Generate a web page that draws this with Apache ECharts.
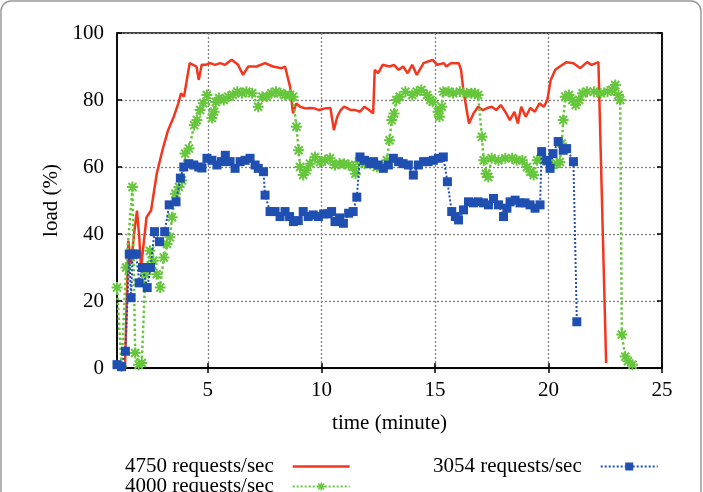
<!DOCTYPE html>
<html>
<head>
<meta charset="utf-8">
<title>load</title>
<script src="https://cdn.jsdelivr.net/npm/echarts@6/dist/echarts.min.js"></script>
<style>
  html, body { margin: 0; padding: 0; background: #fff; }
  #main { width: 703px; height: 492px; }
</style>
</head>
<body>
<div id="main"></div>
<script>
// [time (minute), load (%)]
var load4750 = [
  [1.35,0],[1.5,38],[1.62,31],[1.75,40],[1.88,47],[1.97,40],[2.06,30],[2.3,45],[2.5,47],[2.75,58],
  [3.0,65],[3.25,71],[3.5,75],[3.7,79],[3.82,82],[3.95,81],[4.1,87],[4.2,91],[4.35,90.5],[4.5,90],
  [4.6,86],[4.73,90.5],[4.9,90.5],[5.1,91],[5.32,90.5],[5.54,91],[5.76,90.5],[6.05,92],[6.33,90.5],[6.55,87.5],
  [6.78,90],[7.15,90],[7.52,91],[7.87,90],[8.25,89.5],[8.4,90],[8.62,84],[8.75,76],[8.9,79],[9.06,78],
  [9.3,77.5],[9.5,77.6],[9.7,77.5],[9.9,77],[10.15,77.5],[10.4,77.6],[10.55,71],[10.7,75],[10.85,77],[11.0,78],
  [11.3,77],[11.5,77],[11.7,76.5],[11.9,78],[12.1,77],[12.28,76],[12.35,89],[12.5,88],[12.7,90.5],[13.0,90],
  [13.2,90.5],[13.4,89],[13.6,90],[13.8,88],[14.0,90.5],[14.2,87.5],[14.5,91],[14.7,91.5],[14.9,92],[15.1,90.5],
  [15.4,91],[15.5,90],[15.7,91],[15.9,91],[16.05,91],[16.15,89],[16.25,83],[16.4,77],[16.5,73],[16.7,76],
  [16.9,78],[17.1,77],[17.3,77.6],[17.5,78],[17.7,77],[17.9,78.5],[18.1,76.5],[18.3,74],[18.5,76.5],[18.65,73],
  [18.8,78],[19.0,75],[19.2,77.6],[19.4,76.5],[19.6,79],[19.8,78],[19.95,80],[20.1,86],[20.3,89],[20.5,90],
  [20.8,91.3],[21.1,91],[21.4,89.5],[21.7,91.3],[21.9,90.5],[22.2,91.3],[22.54,1.5]
];

var load4000 = [
  [1.0,24],[1.2,0.5],[1.4,30],[1.68,54],[1.8,4.5],[1.95,1],[2.09,1.5],[2.25,28],[2.45,35],[2.6,32],
  [2.75,28],[2.9,24],[3.06,33],[3.2,37],[3.33,39],[3.42,45],[3.57,52],[3.73,54],[3.86,56],[4.0,64],
  [4.17,65.5],[4.4,72.5],[4.52,74],[4.66,77],[4.8,79],[4.96,81.5],[5.18,74.6],[5.27,76.5],[5.35,79.4],[5.5,80.6],
  [5.7,80],[5.9,81],[6.1,81.5],[6.3,82.5],[6.5,82],[6.7,82.5],[6.95,82],[7.22,78],[7.4,81],[7.6,81],
  [7.8,82],[8.0,82.5],[8.2,82],[8.4,81.5],[8.62,81.5],[8.75,81],[8.9,72],[9.0,65],[9.06,60],[9.2,57.6],
  [9.35,59],[9.5,61],[9.72,63],[9.94,61.5],[10.16,62],[10.38,62.6],[10.6,60.6],[10.8,61],[11.0,61],[11.2,60.6],
  [11.4,60],[11.5,58],[11.65,61.6],[11.9,61],[12.15,61],[12.44,60],[12.66,60],[12.88,62],[13.0,68],[13.1,74],
  [13.2,76],[13.3,80],[13.45,81],[13.7,82.5],[14.0,81.5],[14.2,82.5],[14.4,83],[14.65,81.5],[14.8,80],[14.9,79.5],
  [15.14,76.5],[15.2,75],[15.3,78],[15.37,82.5],[15.6,82.5],[15.8,82],[16.1,82.5],[16.4,82],[16.6,82],[16.77,82],
  [16.9,81.5],[17.07,69],[17.15,62],[17.25,58],[17.35,57],[17.5,62.6],[17.8,62],[18.1,62.6],[18.4,62.6],[18.6,62],
  [18.85,62],[19.05,60],[19.2,58.6],[19.35,57.6],[19.5,62],[19.7,62.6],[19.95,61.6],[20.15,60.6],[20.37,61],[20.5,61.5],
  [20.58,67],[20.65,74],[20.74,81],[20.9,81.5],[21.05,80],[21.2,78.5],[21.35,80],[21.5,82],[21.7,82.5],[22.0,82.5],
  [22.3,82],[22.6,82.5],[22.8,83],[22.94,84.5],[23.08,81.5],[23.16,80],[23.23,10],[23.38,3.4],[23.5,2],[23.7,1]
];

var load3054 = [
  [1.0,1],[1.2,0.4],[1.37,5],[1.54,34],[1.62,21],[1.69,34],[1.84,34],[1.98,25.4],[2.12,30],[2.33,24],
  [2.48,30],[2.65,40.7],[2.87,37.7],[3.1,40.7],[3.3,48.7],[3.6,49.6],[3.79,56.7],[3.94,60],[4.16,61],[4.38,60.6],
  [4.6,60],[4.74,59.7],[4.96,62.6],[5.18,62],[5.4,60.6],[5.6,61.6],[5.77,63.5],[5.98,61.6],[6.2,59.6],[6.42,61.6],
  [6.64,62],[6.86,62.6],[7.08,60.6],[7.22,59.6],[7.45,58.6],[7.52,51.6],[7.74,46.7],[7.96,46.7],[8.18,45.2],[8.4,46.7],
  [8.6,45.2],[8.77,43.7],[8.98,44],[9.2,46.7],[9.42,45.2],[9.64,45.7],[9.87,45.2],[10.1,46],[10.3,46],[10.45,46.7],
  [10.6,43.7],[10.8,44.8],[10.97,43.2],[11.2,46.2],[11.4,46.7],[11.56,51],[11.7,63],[11.9,62],[12.13,61],[12.3,61.6],
  [12.5,60.6],[12.73,59.6],[12.95,60.6],[13.17,62.6],[13.4,61.6],[13.6,61],[13.83,60.6],[14.05,57.6],[14.27,60.6],[14.5,61.6],
  [14.7,61.6],[14.93,62],[15.15,62.6],[15.37,63],[15.55,55.6],[15.74,46.7],[15.9,45.2],[16.04,44.2],[16.26,47.2],[16.48,49.6],
  [16.7,49.3],[16.9,49.6],[17.14,49.3],[17.36,48.7],[17.58,50.6],[17.8,48.7],[18.02,45.2],[18.17,47.7],[18.31,49.6],[18.53,50.1],
  [18.75,49.3],[18.97,49.3],[19.19,48.7],[19.41,47.7],[19.63,48.7],[19.7,64.6],[19.92,62],[20.07,59.6],[20.2,64],[20.43,67.6],
  [20.65,65],[20.8,65.5],[21.1,61.6],[21.25,13.8]
];

var seriesNames = ['4750 requests/sec', '4000 requests/sec', '3054 requests/sec'];
var xTicks = [5, 10, 15, 20, 25];

var font = 'Liberation Serif';
// asterisk marker like gnuplot point type 3
var starPath = 'path://M4.1 0L5.9 0L5.9 10L4.1 10Z M0 4.1L10 4.1L10 5.9L0 5.9Z ' +
  'M0.7 2L2 0.7L9.3 8L8 9.3Z M8 0.7L9.3 2L2 9.3L0.7 8Z';
// plain line for the solid series legend
var lineIcon = 'path://M0 0L100 0L100 4.4L0 4.4Z';

var chart = echarts.init(document.getElementById('main'));

var hiddenAxis = {
  axisLine: { show: true, lineStyle: { color: '#000', width: 1.5 } },
  axisTick: { show: true, inside: true, length: 5, lineStyle: { color: '#000', width: 1.5 } },
  axisLabel: { show: false },
  splitLine: { show: false }
};

var legendBase = {
  orient: 'horizontal',
  align: 'right',
  itemWidth: 57,
  itemHeight: 10,
  textStyle: { fontFamily: font, fontSize: 21, color: '#000', padding: [0, 14, 0, 0] }
};

var option = {
  animation: false,
  backgroundColor: '#fff',
  graphic: [{
    type: 'rect',
    shape: { x: 1, y: 1, width: 700, height: 540, r: 10 },
    style: { fill: 'none', stroke: '#999', lineWidth: 1.5 },
    silent: true
  }],
  grid: {
    left: 117, right: 41, top: 33, bottom: 124,
    show: true, borderColor: '#000', borderWidth: 1.5
  },
  legend: [
    Object.assign({}, legendBase, { data: [{ name: seriesNames[0], icon: lineIcon }], left: 120, top: 451 }),
    Object.assign({}, legendBase, { data: [seriesNames[2]], left: 428, top: 451 }),
    Object.assign({}, legendBase, { data: [seriesNames[1]], left: 120, top: 471 })
  ],
  xAxis: [
    {
      type: 'value', min: 1, max: 25,
      name: 'time (minute)', nameLocation: 'middle', nameGap: 45,
      nameTextStyle: { fontFamily: font, fontSize: 21, color: '#000' },
      axisLine: { lineStyle: { color: '#000', width: 1.5 } },
      axisTick: { inside: true, length: 5, customValues: xTicks, lineStyle: { color: '#000', width: 1.5 } },
      axisLabel: { customValues: xTicks, margin: 12, fontFamily: font, fontSize: 21, color: '#000' },
      splitLine: { show: true, lineStyle: { color: '#808080', type: [2, 2], width: 1.3 } }
    },
    Object.assign({ type: 'value', min: 1, max: 25, position: 'top' }, hiddenAxis, {
      axisTick: { show: true, inside: true, length: 5, customValues: xTicks, lineStyle: { color: '#000', width: 1.5 } }
    })
  ],
  yAxis: [
    {
      type: 'value', min: 0, max: 100, interval: 20,
      name: 'load (%)', nameLocation: 'middle', nameGap: 32,
      nameTextStyle: { fontFamily: font, fontSize: 21, color: '#000' },
      axisLine: { show: true, lineStyle: { color: '#000', width: 1.5 } },
      axisTick: { show: true, inside: true, length: 5, lineStyle: { color: '#000', width: 1.5 } },
      axisLabel: { margin: 13, fontFamily: font, fontSize: 21, color: '#000' },
      splitLine: { show: true, lineStyle: { color: '#808080', type: [2, 2], width: 1.3 } }
    },
    Object.assign({ type: 'value', min: 0, max: 100, interval: 20, position: 'right' }, hiddenAxis)
  ],
  series: [
    {
      name: seriesNames[0], type: 'line', data: load4750,
      symbol: 'none',
      lineStyle: { color: '#f4361e', width: 2.5 },
      itemStyle: { color: '#f4361e' },
      z: 2
    },
    {
      name: seriesNames[1], type: 'line', data: load4000,
      symbol: starPath, symbolSize: 11,
      lineStyle: { color: '#66c63c', width: 2.5, type: 'dotted' },
      itemStyle: { color: '#66c63c' },
      z: 3
    },
    {
      name: seriesNames[2], type: 'line', data: load3054,
      symbol: 'rect', symbolSize: 9,
      lineStyle: { color: '#1f4fb0', width: 2, type: 'dotted' },
      itemStyle: { color: '#1f4fb0' },
      z: 4
    }
  ]
};

chart.setOption(option);
</script>
</body>
</html>
